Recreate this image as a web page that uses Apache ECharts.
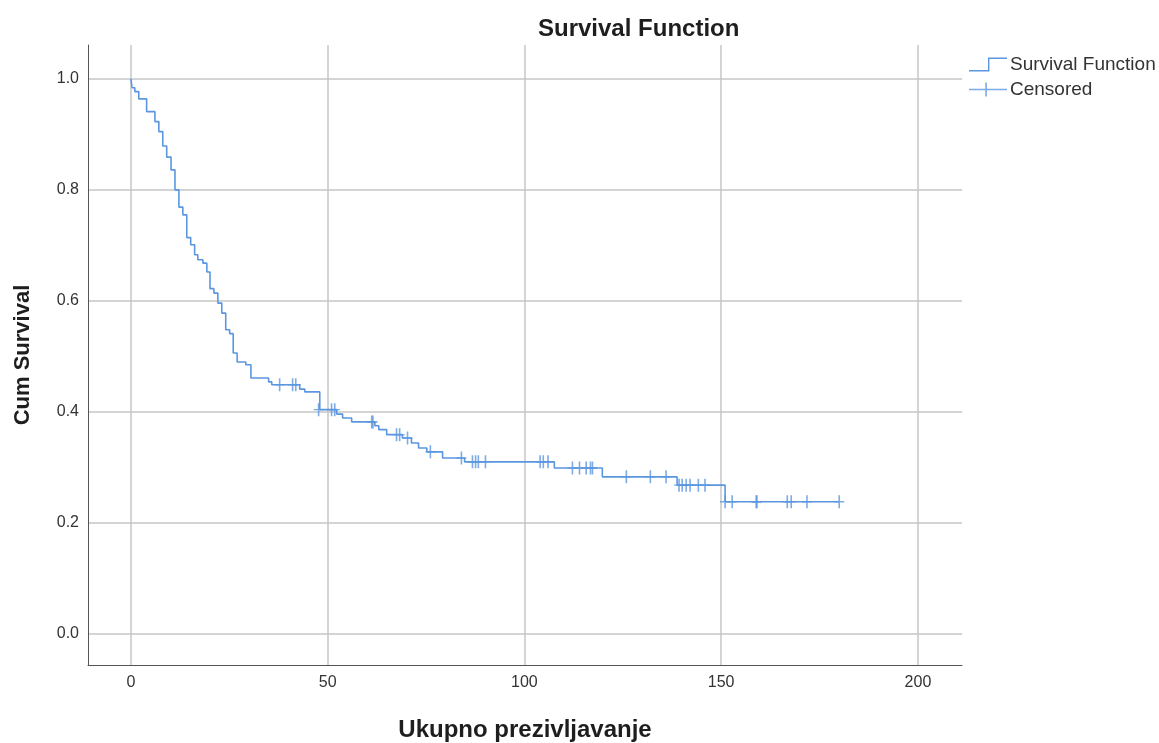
<!DOCTYPE html>
<html>
<head>
<meta charset="utf-8">
<script src="https://cdn.jsdelivr.net/npm/echarts@6/dist/echarts.min.js"></script>
<style>html,body{margin:0;padding:0;background:#fff}#c{width:1159px;height:743px}</style>
</head>
<body>
<div id="c"></div>
<script>
// Kaplan-Meier step points: time after which survival takes the new value
const eventTimes = [0, 0.3, 1.0, 2.0, 4.0, 6.1, 7.1, 8.1, 9.1, 10.2, 11.2, 12.2, 13.2, 14.2, 15.2, 16.2, 17.0, 18.3, 19.3, 20.1, 21.1, 22.1, 23.1, 24.1, 25.1, 26.0, 27.0, 29.2, 30.5, 35.0, 35.8, 42.9, 44.2, 48.0, 52.3, 53.8, 56.1, 62.0, 63.0, 65.0, 69.0, 71.3, 73.1, 75.2, 79.2, 84.8, 107.6, 119.8, 138.8, 151.0, 180.0];
const survival =   [1.0, 0.984, 0.977, 0.964, 0.941, 0.923, 0.905, 0.879, 0.859, 0.836, 0.800, 0.769, 0.755, 0.714, 0.701, 0.683, 0.674, 0.668, 0.652, 0.622, 0.614, 0.596, 0.578, 0.548, 0.541, 0.506, 0.490, 0.485, 0.461, 0.454, 0.449, 0.441, 0.436, 0.404, 0.396, 0.389, 0.382, 0.375, 0.368, 0.359, 0.353, 0.344, 0.335, 0.328, 0.317, 0.310, 0.299, 0.283, 0.268, 0.238, 0.238];
// Censored observations
const censoredTimes = [37.8, 41.1, 41.9, 47.7, 51.0, 51.8, 61.2, 61.5, 67.5, 68.3, 70.3, 76.1, 84.0, 86.8, 87.6, 88.3, 90.1, 104.0, 104.8, 106.0, 112.2, 114.0, 115.7, 116.8, 117.3, 125.9, 132.0, 136.0, 139.3, 140.1, 141.1, 142.1, 144.2, 145.9, 151.0, 152.8, 158.9, 159.1, 166.8, 167.8, 171.8, 180.0];
const censoredSurv =  [0.449, 0.449, 0.449, 0.404, 0.404, 0.404, 0.382, 0.382, 0.359, 0.359, 0.353, 0.328, 0.317, 0.310, 0.310, 0.310, 0.310, 0.310, 0.310, 0.310, 0.299, 0.299, 0.299, 0.299, 0.299, 0.283, 0.283, 0.283, 0.268, 0.268, 0.268, 0.268, 0.268, 0.268, 0.238, 0.238, 0.238, 0.238, 0.238, 0.238, 0.238, 0.238];
const xTicks = [0, 50, 100, 150, 200];
const yTicks = [0.0, 0.2, 0.4, 0.6, 0.8, 1.0];

const blue = '#5b96e0';
const font = '"Liberation Sans", Arial, sans-serif';
const chart = echarts.init(document.getElementById('c'), null, {renderer: 'canvas'});
const stepData = eventTimes.map((t, i) => [t, survival[i]]);
const censData = censoredTimes.map((t, i) => [t, censoredSurv[i]]);

chart.setOption({
  backgroundColor: '#fff',
  animation: false,
  title: {
    text: 'Survival Function', left: 533, top: 12,
    textStyle: {fontFamily: font, fontSize: 24, fontWeight: 'bold', color: '#1e1e1e'}
  },
  legend: {
    orient: 'vertical', left: 964, top: 50, itemWidth: 38, itemHeight: 14, itemGap: 6,
    textStyle: {fontFamily: font, fontSize: 19, color: '#333', padding: [0, 0, 0, -2]},
    data: [
      {name: 'Survival Function', icon: 'path://M0,12.6 h19 v-12.6 h19 v1.4 h-17.6 v12.6 h-20.4z', itemStyle: {color: blue, borderWidth: 0}},
      {name: 'Censored', icon: 'path://M0,6.3 h38 v1.4 h-38z M16.3,0 h1.6 v14 h-1.6z', itemStyle: {color: blue, borderWidth: 0}}
    ]
  },
  grid: {left: 88, right: 197, top: 45, bottom: 78, containLabel: false, outerBoundsMode: 'none'},
  xAxis: {
    type: 'value', min: -10.9, max: 211.2,
    name: 'Ukupno prezivljavanje', nameLocation: 'middle', nameGap: 53,
    nameTextStyle: {fontFamily: font, fontSize: 24, fontWeight: 'bold', color: '#1e1e1e'},
    axisLine: {show: true, onZero: false, lineStyle: {color: '#555', width: 1}},
    axisTick: {show: false, customValues: xTicks},
    axisLabel: {customValues: xTicks, margin: 10, fontFamily: font, fontSize: 16, color: '#333', formatter: v => String(v)},
    splitLine: {show: true, lineStyle: {color: '#c6c6c6', width: 1.5}}
  },
  yAxis: {
    type: 'value', min: -0.056, max: 1.061,
    name: 'Cum Survival', nameLocation: 'middle', nameGap: 54, nameRotate: 90,
    nameTextStyle: {fontFamily: font, fontSize: 22, fontWeight: 'bold', color: '#1e1e1e'},
    axisLine: {show: true, onZero: false, lineStyle: {color: '#555', width: 1}},
    axisTick: {show: false, customValues: yTicks},
    axisLabel: {customValues: yTicks, margin: 9, fontFamily: font, fontSize: 16, color: '#333', formatter: v => v.toFixed(1)},
    splitLine: {show: true, lineStyle: {color: '#c6c6c6', width: 1.5}}
  },
  series: [
    {
      name: 'Survival Function', type: 'line', step: 'end', data: stepData,
      symbol: 'none', lineStyle: {color: blue, width: 1.6}, itemStyle: {color: blue}, z: 3
    },
    {
      name: 'Censored', type: 'scatter', data: censData,
      symbol: 'path://M-5,-0.7 h10 v1.4 h-10z M-0.8,-6.5 h1.6 v13 h-1.6z', symbolSize: [10, 13],
      itemStyle: {color: blue}, z: 4
    }
  ]
});
</script>
</body>
</html>
